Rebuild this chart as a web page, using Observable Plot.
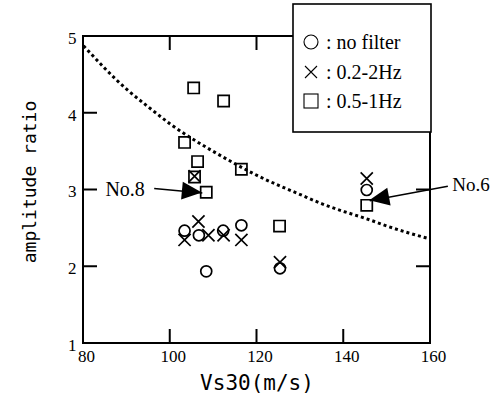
<!DOCTYPE html>
<html><head><meta charset="utf-8">
<script src="https://cdn.jsdelivr.net/npm/d3@7"></script>
<script src="https://cdn.jsdelivr.net/npm/@observablehq/plot@0.6"></script>
<style>body{margin:0;background:#fff}</style>
</head><body><div id="chart"></div>
<script>
// ---- data ----
const squareVs30  = [105.4, 112.3, 103.3, 106.3, 105.6, 108.3, 116.4, 125.2, 145.3];
const squareRatio = [4.33, 4.16, 3.62, 3.37, 3.17, 2.97, 3.27, 2.53, 2.80];
const circleVs30  = [103.3, 106.6, 112.2, 116.4, 108.3, 125.3, 145.3];
const circleRatio = [2.47, 2.41, 2.47, 2.54, 1.94, 1.98, 3.00];
const crossVs30   = [106.5, 103.3, 108.8, 112.3, 116.4, 125.3, 145.3, 105.6];
const crossRatio  = [2.59, 2.35, 2.41, 2.41, 2.35, 2.06, 3.15, 3.18];
const curveVs30   = [80, 85, 90, 95, 100, 105, 110, 115, 120, 125, 130, 135, 140, 145, 150, 155, 160];
const curveRatio  = [4.88, 4.58, 4.31, 4.08, 3.86, 3.67, 3.50, 3.34, 3.19, 3.06, 2.94, 2.82, 2.72, 2.63, 2.53, 2.44, 2.36];
const xTicks = [80, 100, 120, 140, 160];
const yTicks = [1, 2, 3, 4, 5];
const legendLabels  = ["no filter", "0.2-2Hz", "0.5-1Hz"];
const legendSymbols = ["circle", "times", "square"];
const noteLabels = ["No.8", "No.6"];
const noteTextVs30  = [89.6, 165.0];
const noteTextRatio = [3.01, 3.07];
const noteFromVs30  = [96.3, 164.0];
const noteFromRatio = [3.02, 3.05];
const noteToVs30    = [107.4, 146.0];
const noteToRatio   = [2.96, 2.86];
const xTitle = "Vs30(m/s)";
const yTitle = "amplitude ratio";

const pts = (xs, ys) => xs.map((x, i) => ({x, y: ys[i]}));
const squares = pts(squareVs30, squareRatio);
const circles = pts(circleVs30, circleRatio);
const crosses = pts(crossVs30, crossRatio);
const curve = pts(curveVs30, curveRatio);
const notes = noteLabels.map((t, i) => ({t, tx: noteTextVs30[i], ty: noteTextRatio[i],
  x1: noteFromVs30[i], y1: noteFromRatio[i], x2: noteToVs30[i], y2: noteToRatio[i]}));

const serif = "Liberation Serif";
const mono = "DejaVu Sans Mono";

const chart = Plot.plot({
  width: 493, height: 412,
  marginLeft: 83, marginRight: 63, marginTop: 36, marginBottom: 69,
  style: {fontFamily: serif, fontSize: "17px", color: "black", background: "white", overflow: "visible"},
  x: {domain: [80, 160]},
  y: {domain: [1, 5]},
  marks: [
    Plot.axisX(xTicks, {tickSize: 0, tickPadding: 6, dx: 3, label: null, fontSize: 17, fontFamily: serif, tickFormat: d => String(d)}),
    Plot.axisY(yTicks, {tickSize: 0, tickPadding: 7, dy: 2, label: null, fontSize: 17, fontFamily: serif, tickFormat: d => String(d)}),
    Plot.line(curve, {x: "x", y: "y", stroke: "black", strokeWidth: 3, strokeDasharray: "3,3", strokeLinecap: "butt", curve: "natural"}),
    Plot.dot(squares, {x: "x", y: "y", symbol: "square", r: 6.3, stroke: "black", strokeWidth: 1.7, fill: "none"}),
    Plot.dot(circles, {x: "x", y: "y", symbol: "circle", r: 5.5, stroke: "black", strokeWidth: 1.7, fill: "none"}),
    Plot.dot(crosses, {x: "x", y: "y", symbol: "times", r: 5.6, stroke: "black", strokeWidth: 1.7, fill: "none"}),
    Plot.link(notes, {x1: "x1", y1: "y1", x2: "x2", y2: "y2", stroke: "black", strokeWidth: 1.5}),
    Plot.text(notes.filter(d => d.t === "No.8"), {x: "tx", y: "ty", text: "t", fontSize: 20, fontFamily: serif, fill: "black"}),
    Plot.text(notes.filter(d => d.t === "No.6"), {x: "tx", y: "ty", text: "t", fontSize: 19, fontFamily: serif, fill: "black", textAnchor: "start"}),
    Plot.text([xTitle], {frameAnchor: "bottom", textAnchor: "middle", dy: 46, fontFamily: mono, fontSize: 21, fill: "black"}),
    Plot.text([yTitle], {frameAnchor: "left", textAnchor: "middle", rotate: -90, dx: -53, dy: -8, fontFamily: mono, fontSize: 18, fill: "black"})
  ]
});

const svg = d3.select(chart);
const sx = chart.scale("x"), sy = chart.scale("y");

// frame and inner tick marks pointing into it, placed through the scales
const tickLen = 14;
const [xl, xr] = [sx.apply(80), sx.apply(160)];
const [yb, yt] = [sy.apply(1), sy.apply(5)];
const tg = svg.append("g").attr("stroke", "#000").attr("stroke-width", 2).attr("fill", "none");
tg.append("path").attr("d", `M${xl},${yt}H${xr}V${yb}H${xl}Z`);
xTicks.slice(1, -1).forEach(v => {
  const px = sx.apply(v);
  tg.append("path").attr("d", `M${px},${yb}V${yb - tickLen}`);
  tg.append("path").attr("d", `M${px},${yt}V${yt + tickLen}`);
});
yTicks.slice(1, -1).forEach(v => {
  const py = sy.apply(v);
  tg.append("path").attr("d", `M${xl},${py}H${xl + tickLen}`);
  tg.append("path").attr("d", `M${xr},${py}H${xr - tickLen}`);
});

// filled arrow heads
const headLen = 20, headHalf = 9;
notes.forEach(d => {
  const ax = sx.apply(d.x1), ay = sy.apply(d.y1), bx = sx.apply(d.x2), by = sy.apply(d.y2);
  const ang = Math.atan2(by - ay, bx - ax);
  const cx = bx - headLen * Math.cos(ang), cy = by - headLen * Math.sin(ang);
  const px = -Math.sin(ang) * headHalf, py = Math.cos(ang) * headHalf;
  svg.append("path")
    .attr("d", `M${bx},${by}L${cx + px},${cy + py}L${cx - px},${cy - py}Z`)
    .attr("fill", "black");
});

// legend box
const lg = svg.append("g").attr("text-anchor", "start");
const bx0 = 293, by0 = 4, bw = 138, bh = 128;
lg.append("rect").attr("x", bx0).attr("y", by0).attr("width", bw).attr("height", bh)
  .attr("fill", "white").attr("stroke", "black").attr("stroke-width", 1.6);
const rowY = [42, 72, 101];
legendLabels.forEach((lab, i) => {
  const y = rowY[i], x = 311;
  const s = legendSymbols[i];
  if (s === "circle") lg.append("circle").attr("cx", x).attr("cy", y).attr("r", 7).attr("fill", "none").attr("stroke", "black").attr("stroke-width", 1.1);
  if (s === "times") lg.append("path").attr("d", `M${x-6},${y-6}L${x+6},${y+6}M${x-6},${y+6}L${x+6},${y-6}`).attr("stroke", "black").attr("stroke-width", 1.1);
  if (s === "square") lg.append("rect").attr("x", x - 7).attr("y", y - 7).attr("width", 14).attr("height", 14).attr("fill", "none").attr("stroke", "black").attr("stroke-width", 1.1);
  lg.append("text").attr("x", 326).attr("y", y).attr("dy", "0.35em").attr("text-anchor", "start")
    .attr("font-family", serif).attr("font-size", 20).attr("fill", "black").text(": " + lab);
});

document.getElementById("chart").appendChild(chart);
</script>
</body></html>
